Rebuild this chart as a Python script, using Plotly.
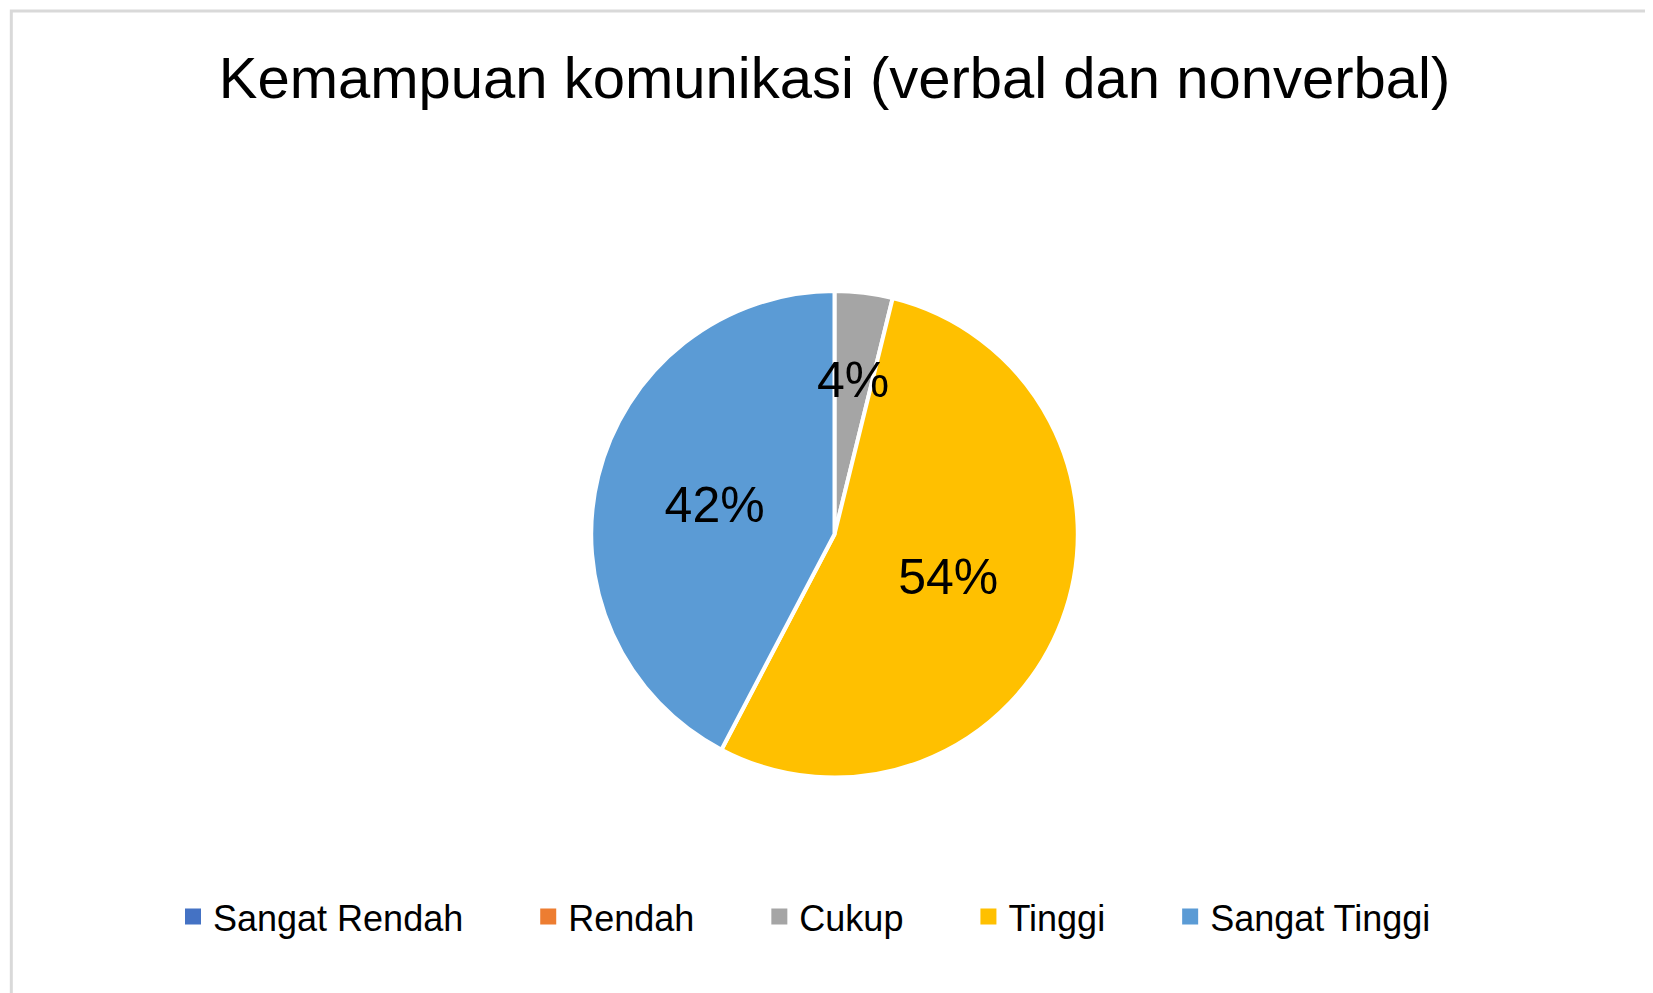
import math
import plotly.graph_objects as go

# Data
labels = ['Sangat Rendah', 'Rendah', 'Cukup', 'Tinggi', 'Sangat Tinggi']
values = [0, 0, 1, 14, 11]
colors = ['#4472C4', '#ED7D31', '#A5A5A5', '#FFC000', '#5B9BD5']

W, H = 1653, 993
dom_y = [0.225, 0.715]
total = sum(values)
pct_text = ['' if v == 0 else f'{round(100 * v / total)}%' for v in values]
# small slice label is placed by hand (plotly would shrink it)
inside_text = [t if labels[i] != 'Cukup' else '' for i, t in enumerate(pct_text)]

fig = go.Figure(go.Pie(
    labels=labels,
    values=values,
    sort=False,
    direction='clockwise',
    rotation=0,
    marker=dict(colors=colors, line=dict(color='white', width=4)),
    text=inside_text,
    texttemplate='%{text}',
    textposition='inside',
    insidetextorientation='horizontal',
    textfont=dict(size=50, color='black'),
    domain=dict(x=[0, 1], y=dom_y),
    hoverinfo='label+percent',
    showlegend=False,
))

# legend entries with big square swatches
for lab, col in zip(labels, colors):
    fig.add_trace(go.Scatter(x=[None], y=[None], mode='markers', name=lab + '\u00a0' * 6,
                             marker=dict(symbol='square', size=27, color=col)))

# label for the small Cukup slice
cum = sum(values[:2])
mid = (cum + values[2] / 2) / total * 2 * math.pi
R = (dom_y[1] - dom_y[0]) / 2 * H
cy = (dom_y[0] + dom_y[1]) / 2
fig.add_annotation(x=0.5 + 0.64 * R * math.sin(mid) / W, y=cy + 0.64 * R * math.cos(mid) / H,
                   xref='paper', yref='paper', text=pct_text[2], showarrow=False,
                   font=dict(size=50, color='black'))

fig.update_layout(
    width=W, height=H,
    paper_bgcolor='white', plot_bgcolor='white',
    font=dict(family='Liberation Sans, Arial, sans-serif', color='black'),
    title=dict(text='Kemampuan komunikasi (verbal dan nonverbal)',
               x=0.5, xanchor='center', y=0.93, yanchor='middle',
               font=dict(size=58, color='black')),
    margin=dict(l=0, r=0, t=0, b=0),
    xaxis=dict(visible=False), yaxis=dict(visible=False),
    showlegend=True,
    legend=dict(orientation='h', x=0.5, xanchor='center', y=0.085, yanchor='middle',
                font=dict(size=36)),
    shapes=[dict(type='rect', xref='paper', yref='paper', x0=0.002, y0=0.003,
                 x1=0.998, y1=0.997, line=dict(color='#D9D9D9', width=3))],
)

fig.write_html("out.html")
